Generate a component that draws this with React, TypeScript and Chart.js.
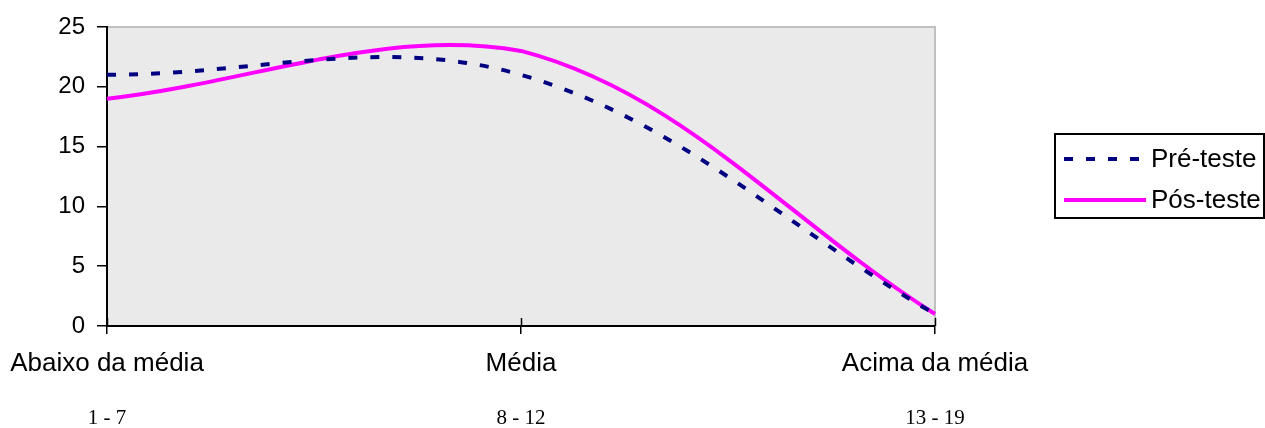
import React, { useEffect, useRef } from 'react';
import { Chart, registerables } from 'chart.js';

Chart.register(...registerables);

const categories = ['Abaixo da média', 'Média', 'Acima da média'];
const ranges = ['1 - 7', '8 - 12', '13 - 19'];
const preTeste = [21, 21, 1];
const posTeste = [19, 23, 1];
const yTicks = [0, 5, 10, 15, 20, 25];
const seriesNames = ['Pré-teste', 'Pós-teste'];

export default function App() {
  const ref = useRef<HTMLCanvasElement>(null);

  useEffect(() => {
    if (!ref.current) return;

    const plotBg = {
      id: 'plotBg',
      beforeDraw(chart: any) {
        const { ctx, chartArea: a } = chart;
        ctx.save();
        ctx.fillStyle = '#eaeaea';
        ctx.fillRect(a.left, a.top, a.right - a.left, a.bottom - a.top);
        ctx.strokeStyle = '#c0c0c0';
        ctx.lineWidth = 2;
        ctx.beginPath();
        ctx.moveTo(a.left, a.top);
        ctx.lineTo(a.right, a.top);
        ctx.lineTo(a.right, a.bottom);
        ctx.stroke();
        ctx.restore();
      },
    };

    const extras = {
      id: 'extras',
      afterDraw(chart: any) {
        const { ctx, chartArea: a } = chart;
        const xs = chart.scales.x;
        ctx.save();
        ctx.strokeStyle = '#000';
        ctx.lineWidth = 1.5;
        categories.forEach((_, i) => {
          const px = Math.round(xs.getPixelForValue(i)) + 0.5;
          ctx.beginPath();
          ctx.moveTo(px, a.bottom - 8);
          ctx.lineTo(px, a.bottom);
          ctx.stroke();
        });
        ctx.fillStyle = '#000';
        ctx.font = '21px "Liberation Serif"';
        ctx.textAlign = 'center';
        ctx.textBaseline = 'middle';
        ranges.forEach((r, i) => {
          ctx.fillText(r, xs.getPixelForValue(i), 418);
        });
        const lx = 1055, ly = 134, lw = 209, lh = 84;
        ctx.strokeStyle = '#000';
        ctx.lineWidth = 2;
        ctx.strokeRect(lx, ly, lw, lh);
        const rowsY = [159, 200];
        chart.data.datasets.forEach((ds: any, i: number) => {
          ctx.beginPath();
          ctx.setLineDash(ds.borderDash || []);
          ctx.strokeStyle = ds.borderColor;
          ctx.lineWidth = ds.borderWidth;
          ctx.moveTo(1064, rowsY[i]);
          ctx.lineTo(1146, rowsY[i]);
          ctx.stroke();
          ctx.setLineDash([]);
          ctx.fillStyle = '#000';
          ctx.font = '26px "Liberation Sans"';
          ctx.textAlign = 'left';
          ctx.textBaseline = 'middle';
          ctx.fillText(ds.label, 1151, rowsY[i] + 1);
        });
        ctx.restore();
      },
    };

    const chart = new Chart(ref.current, {
      type: 'line',
      data: {
        labels: categories,
        datasets: [
          {
            label: seriesNames[0],
            data: preTeste,
            borderColor: '#000080',
            borderDash: [9, 13],
            borderWidth: 4,
            pointRadius: 0,
            tension: 0.36,
            fill: false,
          },
          {
            label: seriesNames[1],
            data: posTeste,
            borderColor: '#ff00ff',
            borderWidth: 4,
            pointRadius: 0,
            tension: 0.36,
            fill: false,
          },
        ],
      },
      options: {
        animation: false,
        responsive: true,
        maintainAspectRatio: false,
        layout: { padding: { top: 27, right: 330, bottom: 0, left: 0 } },
        plugins: { legend: { display: false }, tooltip: { enabled: false } },
        scales: {
          x: {
            type: 'category',
            offset: false,
            grid: { drawOnChartArea: false, color: '#000', lineWidth: 1.5, tickLength: 8 },
            border: { color: '#000', width: 2 },
            ticks: {
              font: { family: 'Liberation Sans', size: 26 },
              color: '#000',
              padding: 14,
              maxRotation: 0,
              autoSkip: false,
            },
            afterFit(s: any) {
              s.height = 102;
              s.paddingLeft = 0;
              s.paddingRight = 0;
            },
          },
          y: {
            min: 0,
            max: 25,
            afterBuildTicks(s: any) {
              s.ticks = yTicks.map((v) => ({ value: v }));
            },
            grid: { drawOnChartArea: false, color: '#000', lineWidth: 1.5, tickLength: 10 },
            border: { color: '#000', width: 2 },
            ticks: {
              font: { family: 'Liberation Sans', size: 24 },
              color: '#000',
              padding: 12,
            },
            afterFit(s: any) {
              s.width = 107;
              s.paddingTop = 0;
              s.paddingBottom = 0;
            },
          },
        },
      },
      plugins: [plotBg, extras],
    });

    return () => chart.destroy();
  }, []);

  return (
    <div style={{ position: 'fixed', left: 0, top: 0, width: 1265, height: 428, background: '#fff' }}>
      <canvas ref={ref} />
    </div>
  );
}
